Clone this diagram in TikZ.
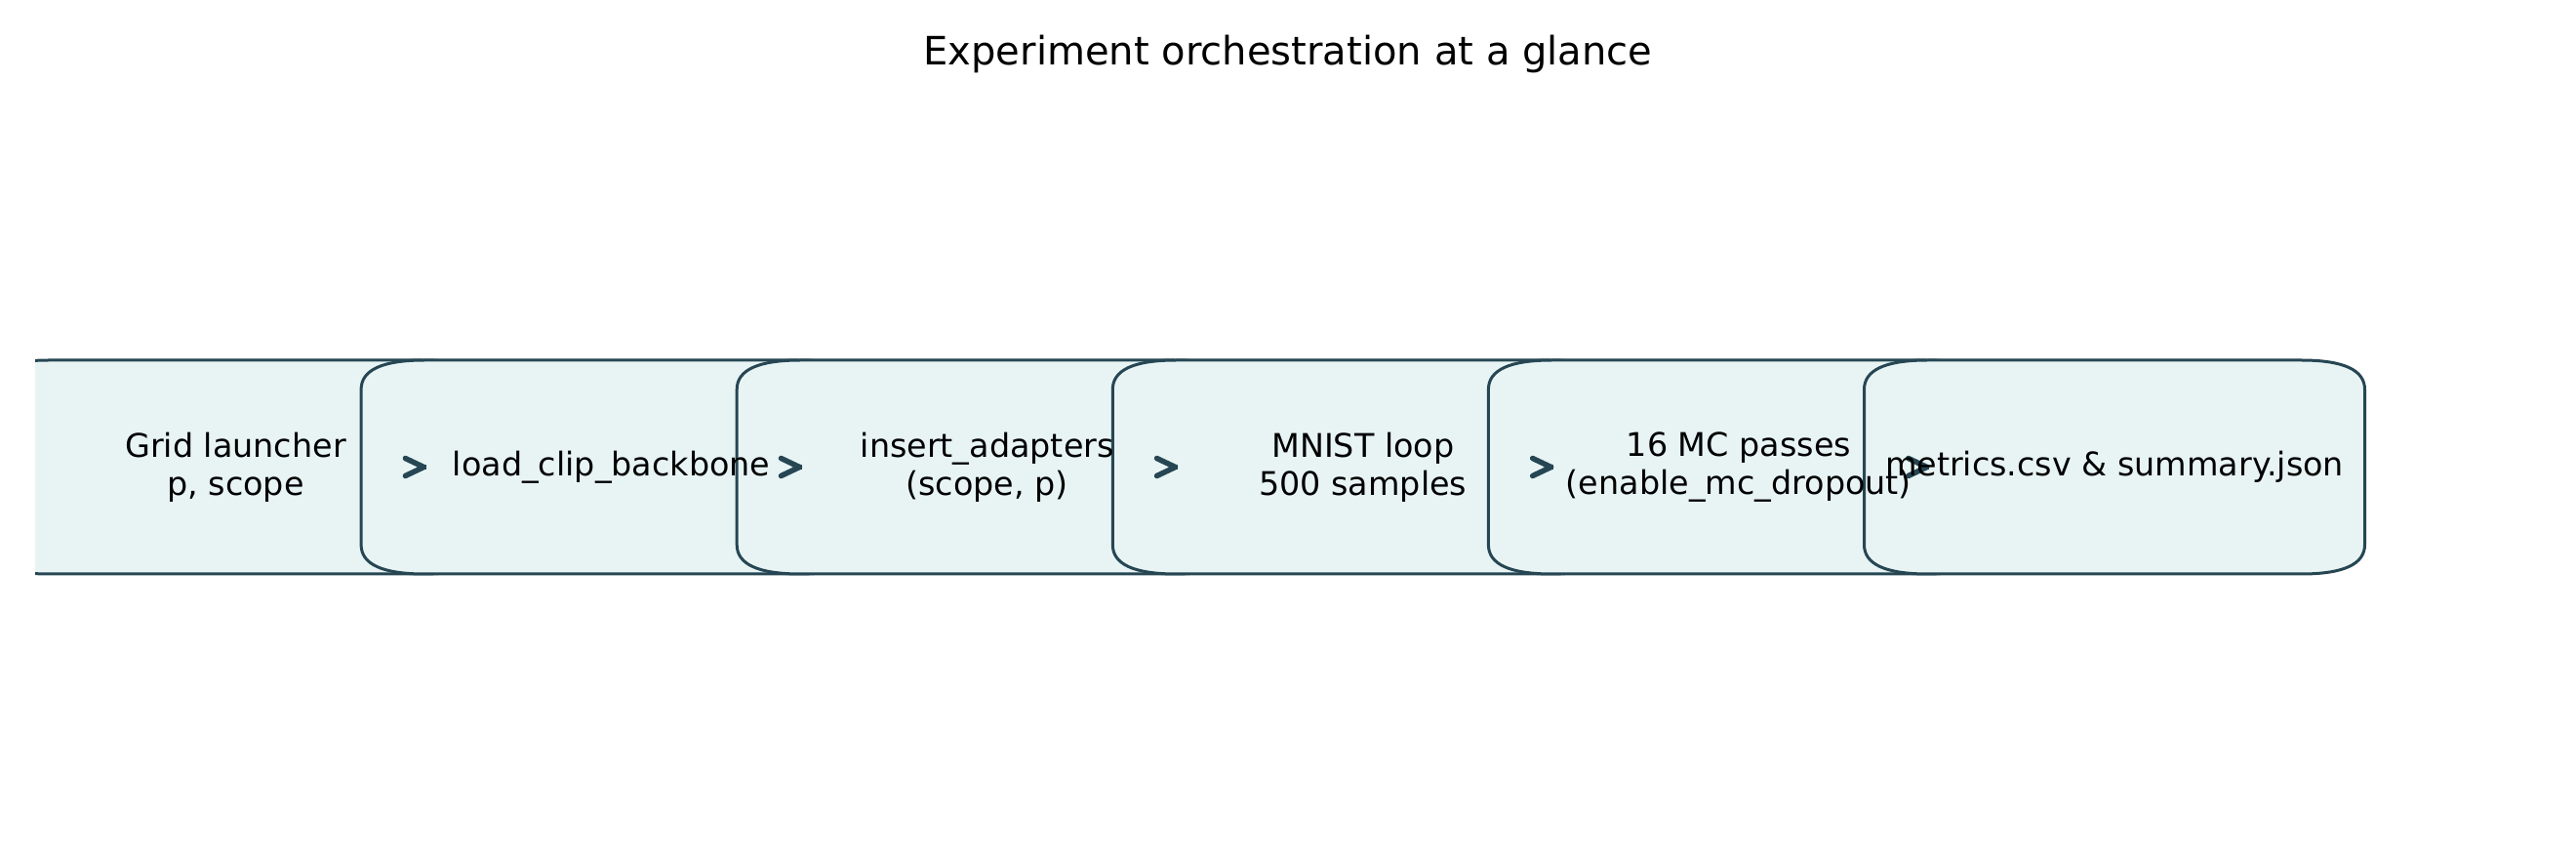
\documentclass[tikz,border=0pt]{standalone}
\usepackage{fontspec}
\setmainfont{DejaVu Sans}
\usetikzlibrary{arrows.meta, backgrounds, calc}
\definecolor{stageedge}{HTML}{264653}
\definecolor{stagefill}{HTML}{E8F4F4}

\newcommand{\cornerx}{6.5mm}
\newcommand{\cornery}{3mm}
% box with flat rounded corners round a stage node
\newcommand{\stagebox}[1]{%
  \filldraw[boxline] ([xshift=\cornerx]#1.south west) -- ([xshift=-\cornerx]#1.south east)
    .. controls ([xshift=-\cornerx/3]#1.south east) and ([yshift=\cornery/3]#1.south east) .. ([yshift=\cornery]#1.south east)
    -- ([yshift=-\cornery]#1.north east)
    .. controls ([yshift=-\cornery/3]#1.north east) and ([xshift=-\cornerx/3]#1.north east) .. ([xshift=-\cornerx]#1.north east)
    -- ([xshift=\cornerx]#1.north west)
    .. controls ([xshift=\cornerx/3]#1.north west) and ([yshift=-\cornery/3]#1.north west) .. ([yshift=-\cornery]#1.north west)
    -- ([yshift=\cornery]#1.south west)
    .. controls ([yshift=\cornery/3]#1.south west) and ([xshift=\cornerx/3]#1.south west) .. ([xshift=\cornerx]#1.south west)
    -- cycle;}

\begin{document}
\begin{tikzpicture}[
    stage/.style={rectangle, minimum width=5.13cm, minimum height=2.19cm, inner sep=0pt, outer sep=0pt, align=center, font=\fontsize{9.5}{11}\selectfont},
    boxline/.style={draw=stageedge, fill=stagefill, line width=0.3mm},
    flow/.style={-{Straight Barb[round, length=1.9mm, width=1.8mm]}, line width=0.55mm, line cap=butt, draw=stageedge, shorten <=1.954cm, shorten >=1.895cm}
]
    \useasboundingbox (0,0) rectangle (26.4,8.8);

    % Title
    \node[anchor=base, font=\fontsize{11.4}{13}\selectfont] (title) at (13.2,8.13) {Experiment orchestration at a glance};

    % Stages
    \node[stage] (launch) at (2.415,4.015) {Grid launcher\\p, scope};
    \node[stage] (backbone) at (6.266,4.015) {load\_clip\_backbone};
    \node[stage] (adapters) at (10.117,4.015) {insert\_adapters\\(scope, p)};
    \node[stage] (mnist) at (13.968,4.015) {MNIST loop\\500 samples};
    \node[stage] (mcpass) at (17.819,4.015) {16 MC passes\\(enable\_mc\_dropout)};
    \node[stage] (export) at (21.670,4.015) {metrics.csv \& summary.json};

    \begin{scope}[on background layer]
        % Boxes
        \begin{scope}
            \clip (0.36,0) rectangle (26.4,8.8);
            \foreach \s in {launch, backbone, adapters, mnist, mcpass, export}
                \stagebox{\s};
        \end{scope}
        % Flow
        \foreach \a/\b in {launch/backbone, backbone/adapters, adapters/mnist, mnist/mcpass, mcpass/export}
            \draw[flow] (\a.center) -- (\b.center);
    \end{scope}
\end{tikzpicture}
\end{document}
